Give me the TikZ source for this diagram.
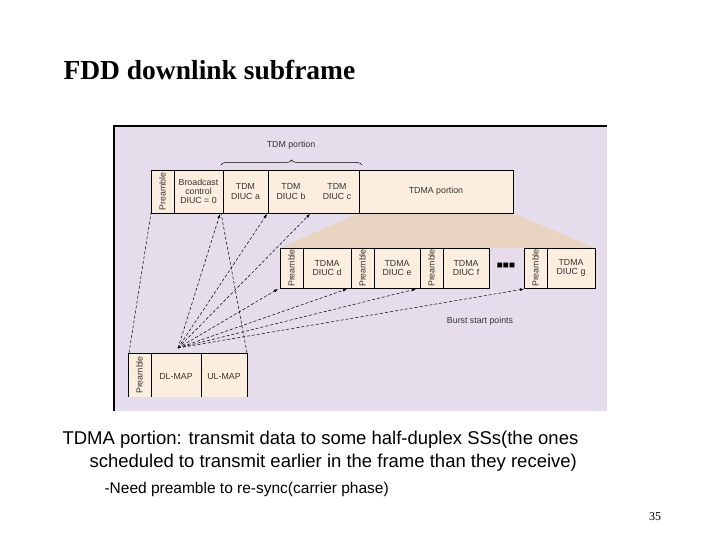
\documentclass[tikz,border=0pt]{standalone}
\usepackage{fontspec}
\setmainfont{Liberation Serif}
\setsansfont{Liberation Sans}
\usetikzlibrary{decorations.pathreplacing,arrows.meta}
\definecolor{lav}{RGB}{230,221,236}
\definecolor{cell}{RGB}{252,238,222}
\definecolor{tanc}{RGB}{232,212,192}
\tikzset{
 cellb/.style={draw=black,line width=0.6pt,fill=cell},
 lbl/.style={font=\sffamily\fontsize{8.8}{9.3}\selectfont,align=center,text=black!80},
 vlbl/.style={lbl,rotate=90},
 dl/.style={dashed,line width=0.5pt,dash pattern=on 3pt off 2pt},
 da/.style={dl,-{Latex[length=4pt,width=3pt]}}
}
\begin{document}
\begin{tikzpicture}[x=1pt,y=-1pt]
\useasboundingbox (0,0) rectangle (720,540);
\fill[white] (0,0) rectangle (720,540);
% panel
\fill[lav] (114,126) rectangle (607,411);
\draw[line width=1.2pt] (114,411) -- (114,126) -- (607,126);
% trapezoid
\fill[tanc] (359,213) -- (513,213) -- (595,248) -- (280,248) -- cycle;
% top bar
\draw[cellb] (151,170) rectangle (513,213);
\foreach \x in {174,223,268,359} \draw (\x,170) -- (\x,213);
\node[vlbl] (p0) at (162.5,191.5) {Preamble};
\node[lbl] (bc) at (198.5,191.5) {Broadcast\\control\\DIUC = 0};
\node[lbl] (ta) at (245.5,191.5) {TDM\\DIUC a};
\node[lbl] (tb) at (291,191.5) {TDM\\DIUC b};
\node[lbl] (tc) at (337,191.5) {TDM\\DIUC c};
\node[lbl] (tp) at (436,191.5) {TDMA portion};
\draw[decorate,decoration={brace,amplitude=5pt},line width=0.5pt] (221,165) -- (362,165);
\node[lbl] (tdm) at (291,145) {TDM portion};
% second bar
\draw[cellb] (280,248) rectangle (489,288);
\draw[cellb] (524,248) rectangle (595,288);
\foreach \x in {303,351,374,420,443} \draw (\x,248) -- (\x,288);
\draw (547,248) -- (547,288);
\node[vlbl] (q1) at (291.5,268) {Preamble};
\node[lbl] (d) at (327,268) {TDMA\\DIUC d};
\node[vlbl] (q2) at (362.5,268) {Preamble};
\node[lbl] (e) at (397,268) {TDMA\\DIUC e};
\node[vlbl] (q3) at (431.5,268) {Preamble};
\node[lbl] (f) at (466,268) {TDMA\\DIUC f};
\node[font=\sffamily\bfseries\fontsize{10}{10}\selectfont] (dots) at (506,266) {■■■};
\node[vlbl] (q4) at (535.5,268) {Preamble};
\node[lbl] (g) at (571,268) {TDMA\\DIUC g};
\node[lbl] (bsp) at (480,321) {Burst start points};
% bottom box
\fill[cell] (128,353) rectangle (247,397);
\draw[line width=0.6pt] (128,397) -- (128,353) -- (247,353) -- (247,397);
\draw (151,353) -- (151,397) (201,353) -- (201,397);
\node[vlbl] (bp) at (139.5,375) {Preamble};
\node[lbl,anchor=base] (dlmap) at (176,379) {DL-MAP};
\node[lbl,anchor=base] (ulmap) at (224,379) {UL-MAP};
% connectors
\coordinate (o) at (178,348);
\coordinate (a1) at (151,213);
\coordinate (a0) at (129,353);
\coordinate (u0) at (247,353);
\coordinate (u1) at (221,213);
\draw[dl] (a0) -- (a1);
\draw[dl] (u0) -- (u1);
\foreach \t in {(220,214),(267,214),(310,214),(278,289),(347,289),(416,289),(524,289)}
  \draw[da] (o) -- \t;
% text
\node[anchor=west,font=\bfseries\fontsize{27.5}{29}\selectfont] (title) at (60,70) {FDD downlink subframe};
\node[anchor=west,font=\sffamily\fontsize{18.5}{20}\selectfont] (t1) at (59,440) {TDMA portion: transmit data to some half-duplex SSs(the ones};
\node[anchor=west,font=\sffamily\fontsize{18.5}{20}\selectfont] (t2) at (86,463) {scheduled to transmit earlier in the frame than they receive)};
\node[anchor=west,font=\sffamily\fontsize{15.5}{17}\selectfont] (t3) at (101,489) {-Need preamble to re-sync(carrier phase)};
\node[font=\fontsize{12}{13}\selectfont] (pg) at (655,517) {35};
\end{tikzpicture}
\end{document}
